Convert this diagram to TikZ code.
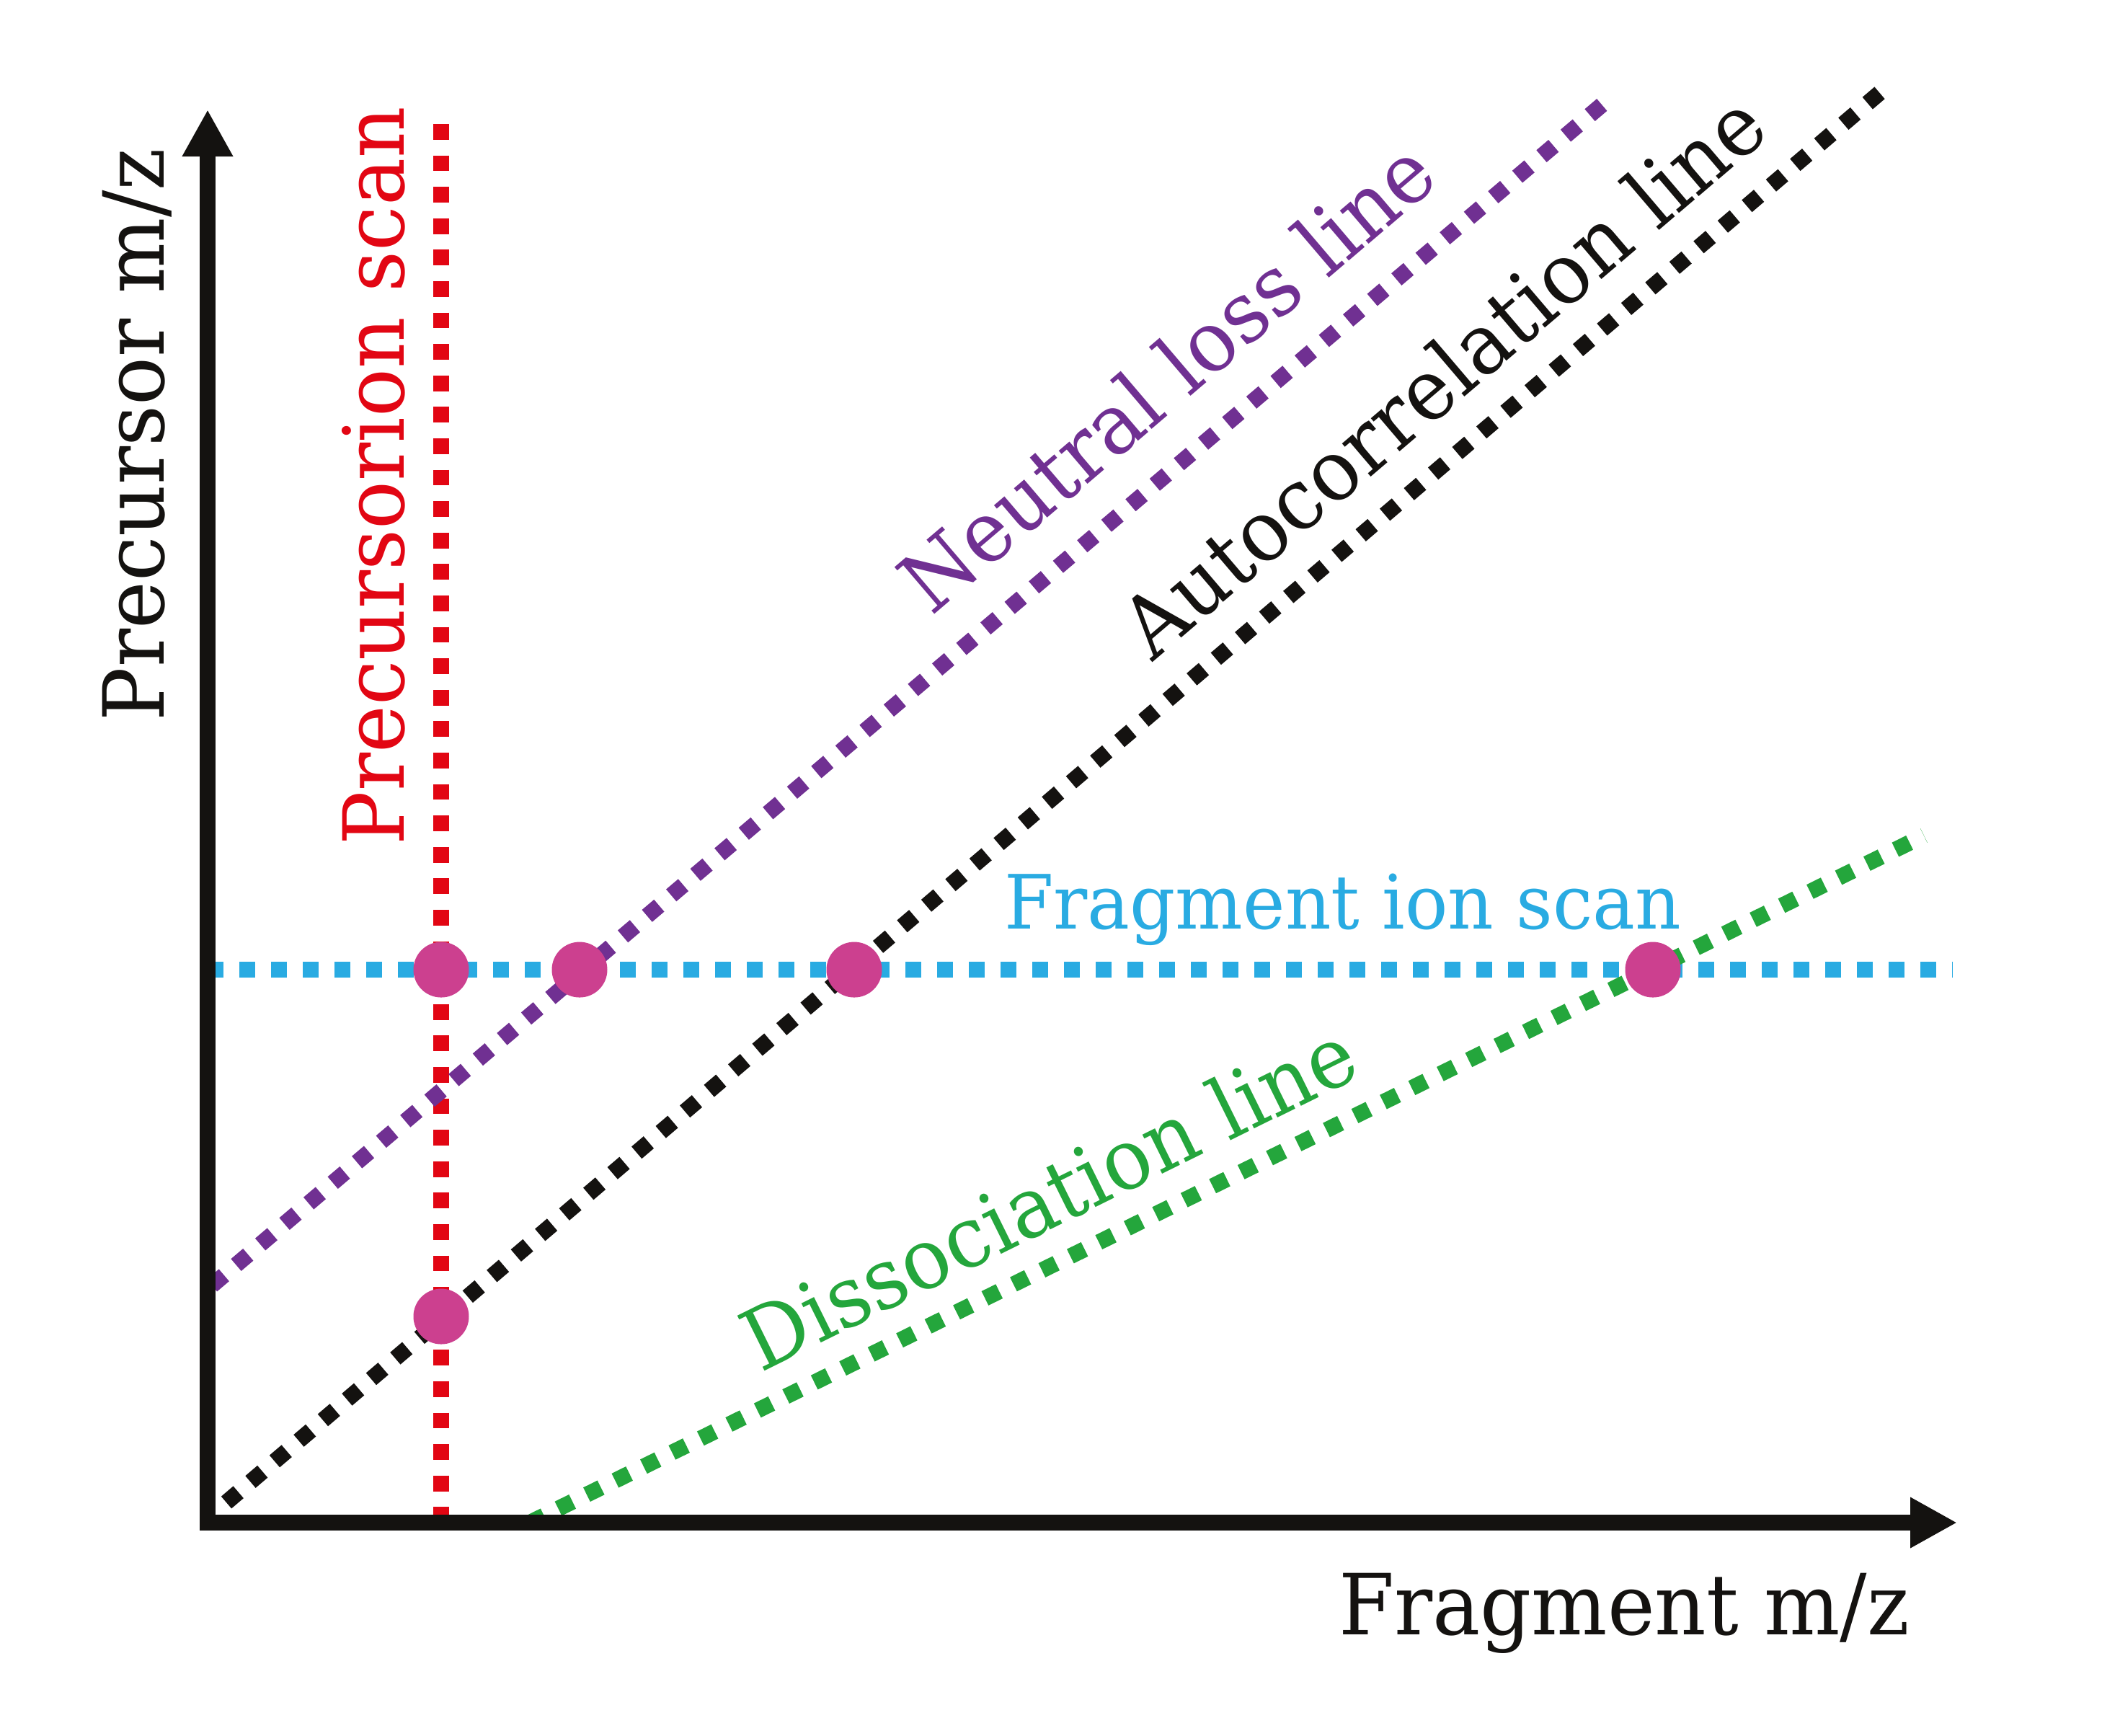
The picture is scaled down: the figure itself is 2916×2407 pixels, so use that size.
\documentclass[tikz,border=0pt]{standalone}
\usepackage{fontspec}
\setmainfont{DejaVu Serif}[FakeStretch=0.95]
\usetikzlibrary{arrows.meta}
\definecolor{axisblack}{RGB}{20,18,16}
\definecolor{scanred}{RGB}{226,6,19}
\definecolor{scanblue}{RGB}{41,171,226}
\definecolor{losspurple}{RGB}{112,48,146}
\definecolor{dissgreen}{RGB}{36,166,60}
\definecolor{dotpink}{RGB}{204,64,143}
\begin{document}
\begin{tikzpicture}[x=0.1pt,y=-0.1pt,
  axisline/.style={line width=2.2pt, draw=axisblack, line join=miter,
    {Triangle[length=6.5pt,width=6.6pt]}-{Triangle[length=6.5pt,width=6.6pt]}},
  dotline/.style={line width=2.2pt, line cap=butt, dash pattern=on 2.2pt off 2.2pt},
  crossdot/.style={circle, fill=dotpink, inner sep=0pt, minimum size=7.7pt},
  lbl/.style={inner sep=0pt, font=\fontsize{11.7pt}{14pt}\selectfont},
]
\useasboundingbox (0,0) rectangle (2916,2407);

% axes
\coordinate (ytop) at (288,152);
\coordinate (O) at (288,2112);
\coordinate (xend) at (2715,2112);

% line end points
\coordinate (redA) at (612,172);
\coordinate (redB) at (612,2112);
\coordinate (blueA) at (288,1345);
\coordinate (blueB) at (2708,1345);
\coordinate (purA) at (294,1783);
\coordinate (purB) at (2231,138);
\coordinate (blkA) at (314,2084);
\coordinate (blkB) at (2612,125);
\coordinate (grnA) at (735,2112);
\coordinate (grnB) at (2669,1159);

\draw[dotline, scanblue] (blueA) -- (blueB);
\draw[dotline, scanred, dash pattern=on 2.18pt off 2.18pt] (redA) -- (redB);
\draw[dotline, axisblack] (blkA) -- (blkB);
\draw[dotline, losspurple] (purA) -- (purB);
\draw[dotline, dissgreen] (grnA) -- (grnB);

\draw[axisline] (ytop) -- (O) -- (xend);

% labels
\node[lbl, rotate=90, anchor=base west, text=axisblack] (ylab) at (228,1002) {Precursor m/z};
\node[lbl, rotate=90, anchor=base west, text=scanred] (redlab) at (560,1174) {Precursorion scan};
\node[lbl, anchor=base west, text=axisblack] (xlab) at (1855,2267) {Fragment m/z};
\node[lbl, anchor=base west, text=scanblue, font=\fontsize{10.4pt}{12pt}\selectfont] (bluelab) at (1391,1288) {Fragment ion scan};
\node[lbl, rotate=40.45, anchor=base west, text=losspurple] (purlab) at (1291,857) {Neutral loss line};
\node[lbl, rotate=40.45, anchor=base west, text=axisblack] (blklab) at (1598,920) {Autocorrelation line};
\node[lbl, rotate=26.3, anchor=base west, text=dissgreen] (grnlab) at (1054,1905) {Dissociation line};

% intersection dots
\node[crossdot] (d1) at (612,1345) {};
\node[crossdot] (d2) at (804,1345) {};
\node[crossdot] (d3) at (1185,1345) {};
\node[crossdot] (d4) at (2293,1345) {};
\node[crossdot] (d5) at (612,1826) {};
\end{tikzpicture}
\end{document}
